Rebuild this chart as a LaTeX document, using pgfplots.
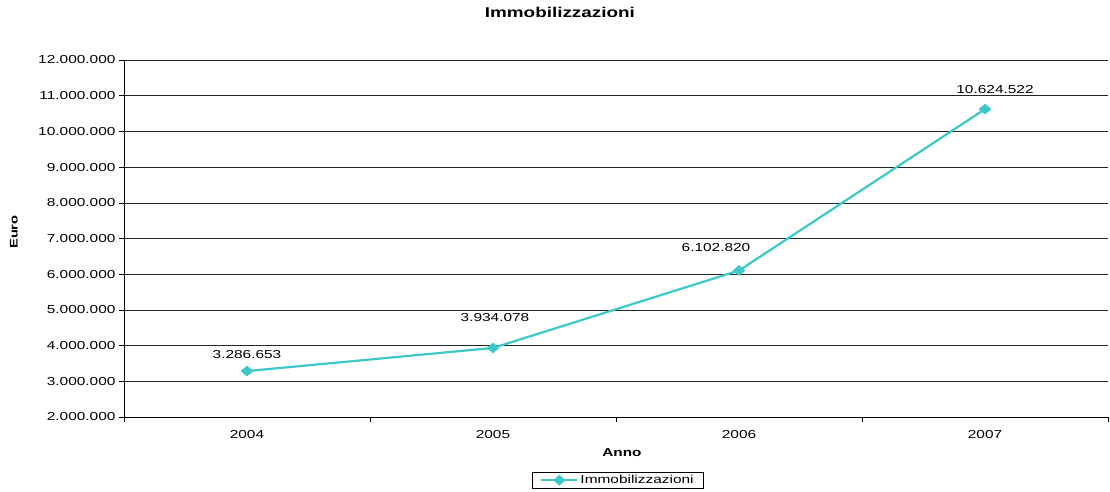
\documentclass[border=0pt]{standalone}
\usepackage{fontspec}
\setmainfont{Liberation Sans}[FakeStretch=1.33]
\usepackage{pgfplots}
\usepackage{pgfplotstable}
\pgfplotsset{compat=1.18}
\definecolor{turq}{RGB}{60,200,200}
\pgfplotstableread{
x y label dx dy
0 3286653 3.286.653 0 17
1 3934078 3.934.078 2 30
2 6102820 6.102.820 -23 23
3 10624522 10.624.522 10 20
}\datatable
\begin{document}
\begin{tikzpicture}
\begin{axis}[
  at={(0pt,0pt)}, anchor=south west,
  scale only axis, width=984pt, height=357pt,
  xmin=-0.5, xmax=3.5, ymin=2000000, ymax=12000000,
  xtick={0,1,2,3}, xticklabels={2004,2005,2006,2007},
  major x tick style={draw=none},
  minor xtick={-0.5,0.5,1.5,2.5,3.5},
  minor tick length=5pt, major tick length=5pt,
  tick align=outside,
  ytick={2000000,3000000,...,12000000},
  scaled y ticks=false,
  /pgf/number format/.cd, fixed, precision=0, 1000 sep={.}, assume math mode=true, /pgfplots/.cd,
  axis x line*=bottom, axis y line*=left,
  axis line style={black, line width=0.8pt},
  ymajorgrids, grid style={black!85, line width=0.6pt},
  tick style={black, line width=0.6pt},
  tick label style={font=\fontsize{11.6}{13}\selectfont},
  xticklabel style={yshift=-5pt},
  title={\bfseries Immobilizzazioni},
  title style={font=\fontsize{14.2}{16}\selectfont, at={(axis description cs:0.443,1.1176)}, anchor=center},
  xlabel={\bfseries Anno},
  xlabel style={font=\fontsize{11.5}{13}\selectfont, at={(axis description cs:0.506,-0.101)}, anchor=center},
  ylabel={\bfseries Euro},
  ylabel style={font=\fontsize{11}{13}\selectfont, at={(axis description cs:-0.1118,0.518)}, anchor=center},
  legend style={at={(axis description cs:0.502,-0.154)}, anchor=north, font=\fontsize{11.6}{13}\selectfont, draw=black, line width=0.6pt, inner xsep=8pt, inner ysep=1pt, row sep=0pt},
  legend image code/.code={\draw[#1] (0pt,0pt) -- (36pt,0pt); \draw[#1, only marks, mark=diamond*, mark size=4pt, mark options={xscale=1.5}] plot coordinates {(18pt,0pt)};},
  legend cell align=left,
  clip=false,
]
\addplot[turq, line width=2.2pt, mark=diamond*, mark size=5pt, mark options={fill=turq, draw=turq, xscale=1.6, line width=0.5pt},
  nodes near coords, point meta=explicit symbolic,
  visualization depends on={\thisrow{dx} \as \dxv},
  visualization depends on={\thisrow{dy} \as \dyv},
  nodes near coords style={font=\fontsize{11.6}{13}\selectfont, black, anchor=center, xshift=\dxv pt, yshift=\dyv pt}]
  table[x=x, y=y, meta=label] {\datatable};
\addlegendentry{Immobilizzazioni}
\end{axis}
\pgfresetboundingbox
\path[use as bounding box] (-124pt,-74pt) rectangle (986pt,417pt);
\end{tikzpicture}
\end{document}
